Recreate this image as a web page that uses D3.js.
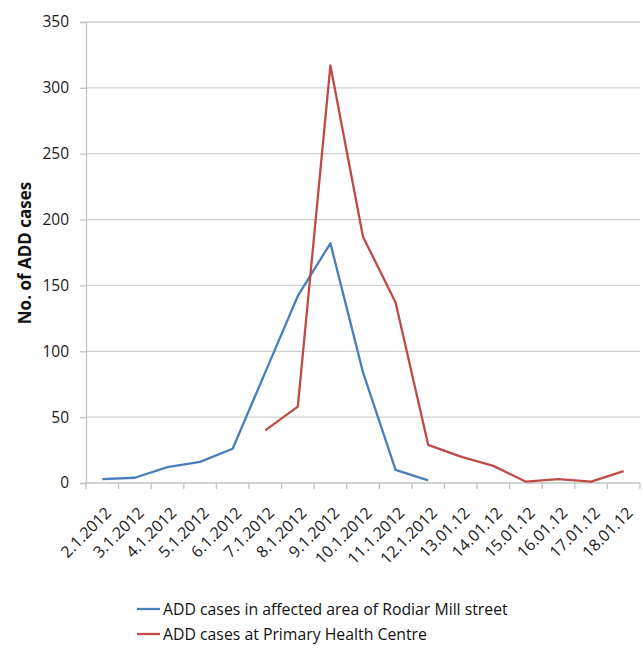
<!DOCTYPE html>
<html><head><meta charset="utf-8">
<script src="https://cdn.jsdelivr.net/npm/d3@7"></script>
<style>body{margin:0;background:#fff}</style>
</head><body>
<svg id="c" width="643" height="650"></svg>
<script>
const categories = ["2.1.2012","3.1.2012","4.1.2012","5.1.2012","6.1.2012","7.1.2012","8.1.2012","9.1.2012","10.1.2012","11.1.2012","12.1.2012","13.01.12","14.01.12","15.01.12","16.01.12","17.01.12","18.01.12"];
const blueValues = [3, 4, 12, 16, 26, 84, 142, 182, 84, 10, 2, null, null, null, null, null, null];
const redValues = [null, null, null, null, null, 40, 58, 317, 187, 137, 29, 20, 13, 1, 3, 1, 9];
const yTicks = [0, 50, 100, 150, 200, 250, 300, 350];
const seriesNames = ["ADD cases in affected area of Rodiar Mill street", "ADD cases at Primary Health Centre"];
const colors = ["#4a7ebb", "#be4b48"];

const svg = d3.select("#c");
const L = 86, R = 640, T = 22, B = 483;
const x = d3.scaleBand().domain(categories).range([L, R]);
const y = d3.scaleLinear().domain([0, 350]).range([B, T]);
const font = "Open Sans, sans-serif";

// gridlines
svg.append("g").selectAll("line").data(yTicks.filter(d => d > 0)).join("line")
  .attr("x1", L).attr("x2", R).attr("y1", d => y(d)).attr("y2", d => y(d))
  .attr("stroke", "#d0d0d0").attr("stroke-width", 1.3);

// y axis
const ya = svg.append("g").attr("transform", `translate(${L},0)`)
  .call(d3.axisLeft(y).tickValues(yTicks).tickSize(6).tickPadding(11));
ya.select(".domain").attr("stroke", "#c4c4c4").attr("stroke-width", 1.3);
ya.selectAll(".tick line").attr("stroke", "#c4c4c4").attr("stroke-width", 1.3);
ya.selectAll("text").attr("font-family", font).attr("font-size", 15.5).attr("fill", "#1a1a1a");

// x axis
const boundaries = categories.map(c => x(c)).concat([R]);
svg.append("line").attr("x1", L).attr("x2", R).attr("y1", B).attr("y2", B)
  .attr("stroke", "#c4c4c4").attr("stroke-width", 1.3);
svg.append("g").selectAll("line").data(boundaries).join("line")
  .attr("x1", d => d).attr("x2", d => d).attr("y1", B).attr("y2", B + 6)
  .attr("stroke", "#c4c4c4").attr("stroke-width", 1.3);
svg.append("g").selectAll("text").data(categories).join("text")
  .attr("transform", d => `translate(${x(d) + x.bandwidth() / 2 + 6},${B + 27}) rotate(-45)`)
  .attr("text-anchor", "end").attr("dy", "0.35em")
  .attr("font-family", font).attr("font-size", 16).attr("fill", "#1a1a1a")
  .text(d => d);

// y label
svg.append("text").attr("transform", `translate(25,253) rotate(-90)`)
  .attr("text-anchor", "middle").attr("dy", "0.35em").attr("font-family", font).attr("font-weight", "bold")
  .attr("font-size", 17).attr("fill", "#111").text("No. of ADD cases");

// lines
const line = d3.line().defined(d => d.v != null)
  .x(d => x(d.c) + x.bandwidth() / 2).y(d => y(d.v));
[blueValues, redValues].forEach((vals, i) => {
  svg.append("path").datum(categories.map((c, j) => ({c, v: vals[j]})))
    .attr("d", line).attr("fill", "none").attr("stroke", colors[i])
    .attr("stroke-width", 2.3).attr("stroke-linejoin", "round");
});

// legend
seriesNames.forEach((n, i) => {
  const ly = 609 + i * 25;
  svg.append("line").attr("x1", 137).attr("x2", 160).attr("y1", ly).attr("y2", ly)
    .attr("stroke", colors[i]).attr("stroke-width", 2.3);
  svg.append("text").attr("x", 163).attr("y", ly).attr("dy", "0.35em")
    .attr("font-family", font).attr("font-size", 15.8).attr("fill", "#111").text(n);
});
</script>
</body></html>
